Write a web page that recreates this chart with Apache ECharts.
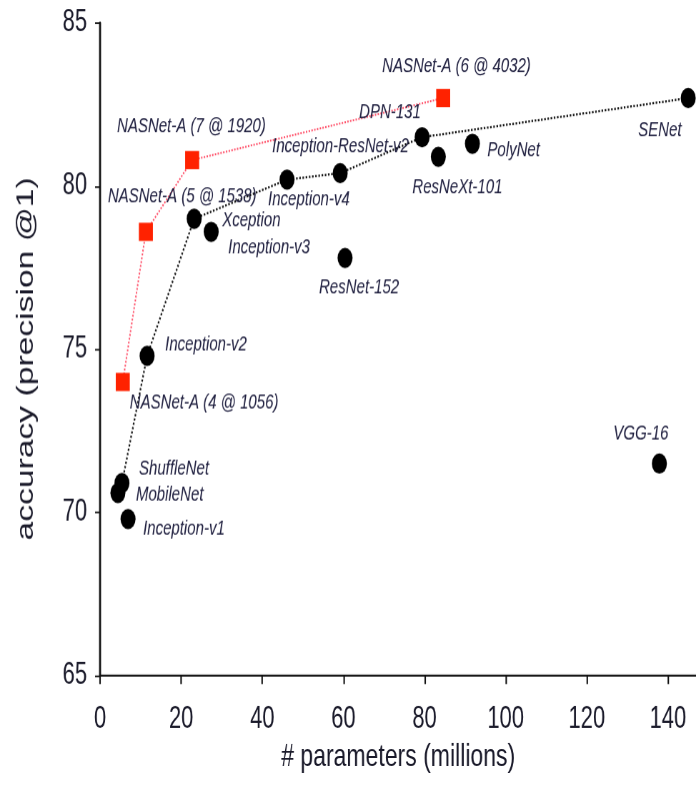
<!DOCTYPE html>
<html>
<head>
<meta charset="utf-8">
<script src="https://cdn.jsdelivr.net/npm/echarts@6/dist/echarts.min.js"></script>
<style>
html,body{margin:0;padding:0;background:#fff;}
#wrap{width:696px;height:794px;position:relative;}
#chart{position:absolute;left:0;top:0;width:696px;height:567px;transform:scaleY(1.40035);transform-origin:0 0;}
</style>
</head>
<body>
<div id="wrap"><div id="chart"></div></div>
<script>
// ---- data ----
const modelNames = ['Inception-v1','MobileNet','ShuffleNet','Inception-v2','Xception','Inception-v3','Inception-v4','Inception-ResNet-v2','ResNet-152','DPN-131','ResNeXt-101','PolyNet','SENet','VGG-16'];
const modelParams = [6.9, 4.4, 5.4, 11.6, 23.2, 27.4, 46.1, 59.2, 60.4, 79.4, 83.4, 91.8, 145.0, 137.9];
const modelAcc    = [69.8, 70.6, 70.9, 74.8, 79.0, 78.6, 80.2, 80.4, 77.8, 81.5, 80.9, 81.3, 82.7, 71.5];
const frontierNames = ['MobileNet','ShuffleNet','Inception-v2','Xception','Inception-v4','Inception-ResNet-v2','DPN-131','SENet'];

const nasNames  = ['NASNet-A (4 @ 1056)','NASNet-A (5 @ 1538)','NASNet-A (7 @ 1920)','NASNet-A (6 @ 4032)'];
const nasParams = [5.6, 11.3, 22.7, 84.6];
const nasAcc    = [74.0, 78.6, 80.8, 82.7];

const xTicks = [0, 20, 40, 60, 80, 100, 120, 140];
const yTicks = [65, 70, 75, 80, 85];

// ---- label placement (pixel offsets from marker centre to label left/middle) ----
const modelLabelOffsets = {
  'Inception-v1':[15,7], 'MobileNet':[18,1], 'ShuffleNet':[17,-10], 'Inception-v2':[18,-8],
  'Xception':[28,1], 'Inception-v3':[17,11], 'Inception-v4':[-19,14], 'Inception-ResNet-v2':[-68,-19],
  'ResNet-152':[-26,21], 'DPN-131':[-63,-18], 'ResNeXt-101':[-26,22], 'PolyNet':[15,5],
  'SENet':[-50,23], 'VGG-16':[-46,-21]
};
const nasLabelOffsets = [[7,15],[-38,-25],[-75,-24],[-61,-23]];

const labelFont = {fontFamily:'"Liberation Sans",sans-serif', fontStyle:'italic', fontSize:15, color:'#202040'};

function labelFor(off){
  return Object.assign({show:true, formatter:'{b}', position:'inside', align:'left', verticalAlign:'middle', offset:off, textBorderWidth:0}, labelFont);
}

const modelData = modelNames.map((n,i)=>({name:n, value:[modelParams[i], modelAcc[i]], label:labelFor(modelLabelOffsets[n])}));
const nasData = nasNames.map((n,i)=>({name:n, value:[nasParams[i], nasAcc[i]], label:labelFor(nasLabelOffsets[i])}));
const frontierData = frontierNames.map(n=>{const i=modelNames.indexOf(n); return [modelParams[i], modelAcc[i]];});
const nasLineData = nasParams.map((p,i)=>[p, nasAcc[i]]);

const chart = echarts.init(document.getElementById('chart'), null, {renderer:'canvas', devicePixelRatio:1.4});
const tickFont = {fontFamily:'"Liberation Sans",sans-serif', fontSize:22, color:'#1a1a2a'};

chart.setOption({
  animation:false,
  backgroundColor:'#ffffff',
  grid:{left:100, right:0, top:16.4, bottom:85, containLabel:false},
  xAxis:{
    type:'value', min:0, max:147,
    name:'# parameters (millions)', nameLocation:'middle', nameGap:41,
    nameTextStyle:{fontFamily:'"Liberation Sans",sans-serif', fontSize:23, color:'#1a1a2a'},
    axisLine:{show:true, onZero:false, lineStyle:{color:'#111', width:1.5}},
    axisTick:{show:true, inside:false, length:6, customValues:xTicks, lineStyle:{color:'#111', width:1.5}},
    axisLabel:Object.assign({show:true, margin:20, customValues:xTicks}, tickFont),
    splitLine:{show:false}
  },
  yAxis:{
    type:'value', min:65, max:85, interval:5,
    axisLine:{show:true, onZero:false, lineStyle:{color:'#111', width:2}},
    axisTick:{show:true, inside:false, length:5, lineStyle:{color:'#111', width:1.2}},
    axisLabel:Object.assign({show:true, margin:13, customValues:yTicks}, tickFont),
    splitLine:{show:false}
  },
  graphic:[{
    type:'text', x:26, y:256, rotation:Math.PI/2,
    style:{text:'accuracy (precision @1)', fontFamily:'"Liberation Sans",sans-serif', fontSize:24, fill:'#1a1a2a', align:'center', verticalAlign:'middle'}
  }],
  series:[
    {type:'line', data:nasLineData, symbol:'none', silent:true, z:2,
     lineStyle:{color:'#ff4a64', width:1.4, type:'dotted'}},
    {type:'line', data:frontierData, symbol:'none', silent:true, z:2,
     lineStyle:{color:'#111', width:1.6, type:'dotted'}},
    {type:'scatter', data:modelData, symbol:'circle', symbolSize:[15,14.5], z:3,
     itemStyle:{color:'#000', opacity:1}},
    {type:'scatter', data:nasData, symbol:'rect', symbolSize:[14,13], z:3,
     itemStyle:{color:'#ff2200', opacity:1}}
  ]
});
</script>
</body>
</html>
